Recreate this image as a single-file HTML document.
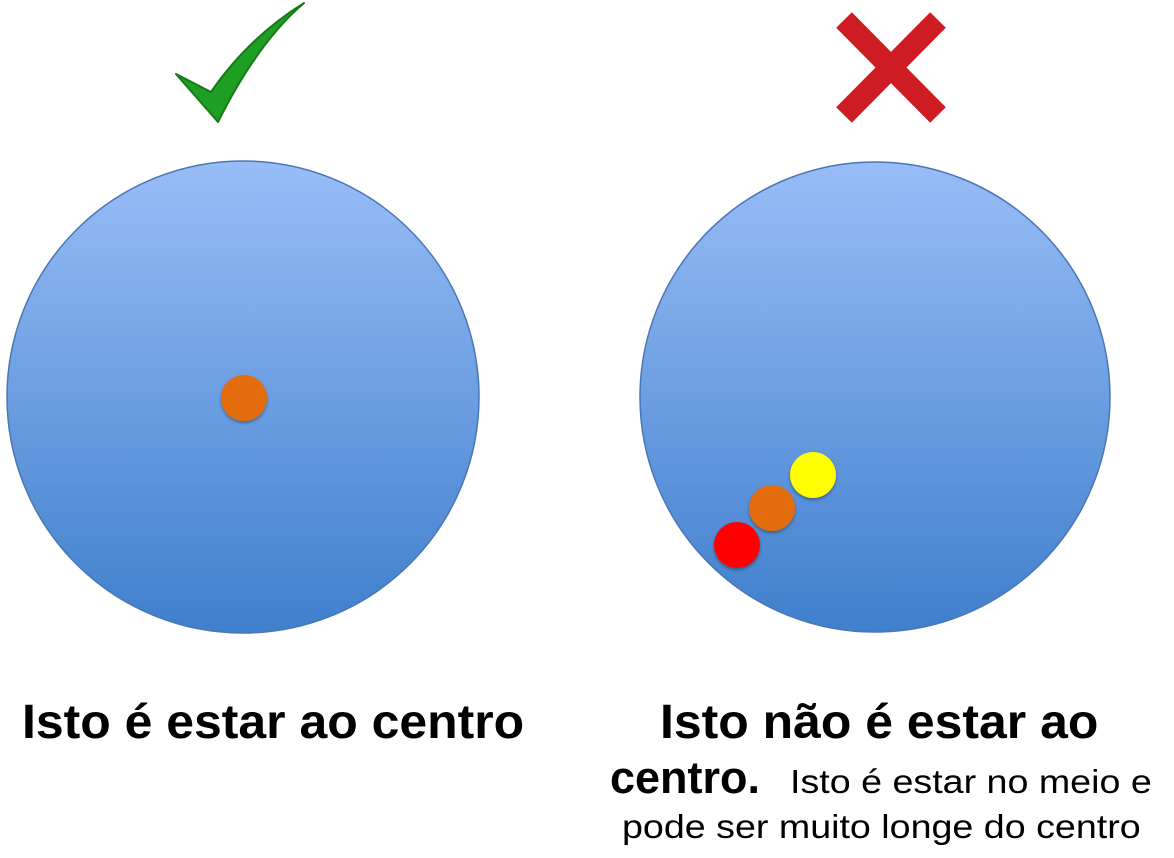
<!DOCTYPE html>
<html><head><meta charset="utf-8"><style>
body{margin:0;background:#fff;width:1174px;height:858px;overflow:hidden;position:relative;font-family:"Liberation Sans",Arial,sans-serif}
.t{position:absolute;font-weight:bold;color:#000;white-space:nowrap;transform-origin:0 0}
</style></head><body>
<svg width="1174" height="858" style="position:absolute;left:0;top:0">
<defs>
<linearGradient id="g" x1="0" y1="0" x2="0" y2="1">
<stop offset="0" stop-color="#98bdf7"/><stop offset="1" stop-color="#3f7fcc"/></linearGradient>
<filter id="s"><feDropShadow dx="0" dy="2" stdDeviation="1.5" flood-opacity="0.35"/></filter>
</defs>
<circle cx="243" cy="397" r="236" fill="url(#g)" stroke="#4a77b4" stroke-width="1.5"/>
<circle cx="875" cy="397" r="235" fill="url(#g)" stroke="#4a77b4" stroke-width="1.5"/>
<circle cx="244" cy="398" r="23" fill="#e36c0a" filter="url(#s)"/>
<circle cx="813" cy="475" r="23" fill="#ffff00" filter="url(#s)"/>
<circle cx="772" cy="508" r="23" fill="#e36c0a" filter="url(#s)"/>
<circle cx="737" cy="545" r="23" fill="#ff0000" filter="url(#s)"/>
<path d="M176,74 L211,92 Q248,38 304,3 Q258,42 218,122 Z" fill="#1e9e22" stroke="#177a18" stroke-width="2" stroke-linejoin="round"/>
<line x1="844" y1="20" x2="938" y2="115" stroke="#cf1c24" stroke-width="22"/>
<line x1="938" y1="20" x2="844" y2="115" stroke="#cf1c24" stroke-width="22"/>
</svg>
<div class="t" style="left:22px;top:699px;font-size:48px;line-height:48px;transform:scaleX(1.04)">Isto é estar ao centro</div>
<div class="t" style="left:660px;top:699px;font-size:48px;line-height:48px;transform:scaleX(1.04)">Isto não é estar ao</div>
<div class="t" style="left:610px;top:755px;font-size:45px;line-height:45px">centro.</div>
<div class="t" style="left:790px;top:765px;font-size:33px;line-height:33px;font-weight:normal;transform:scaleX(1.14)">Isto é estar no meio e</div>
<div class="t" style="left:622px;top:810px;font-size:33px;line-height:33px;font-weight:normal;transform:scaleX(1.14)">pode ser muito longe do centro</div>
</body></html>
